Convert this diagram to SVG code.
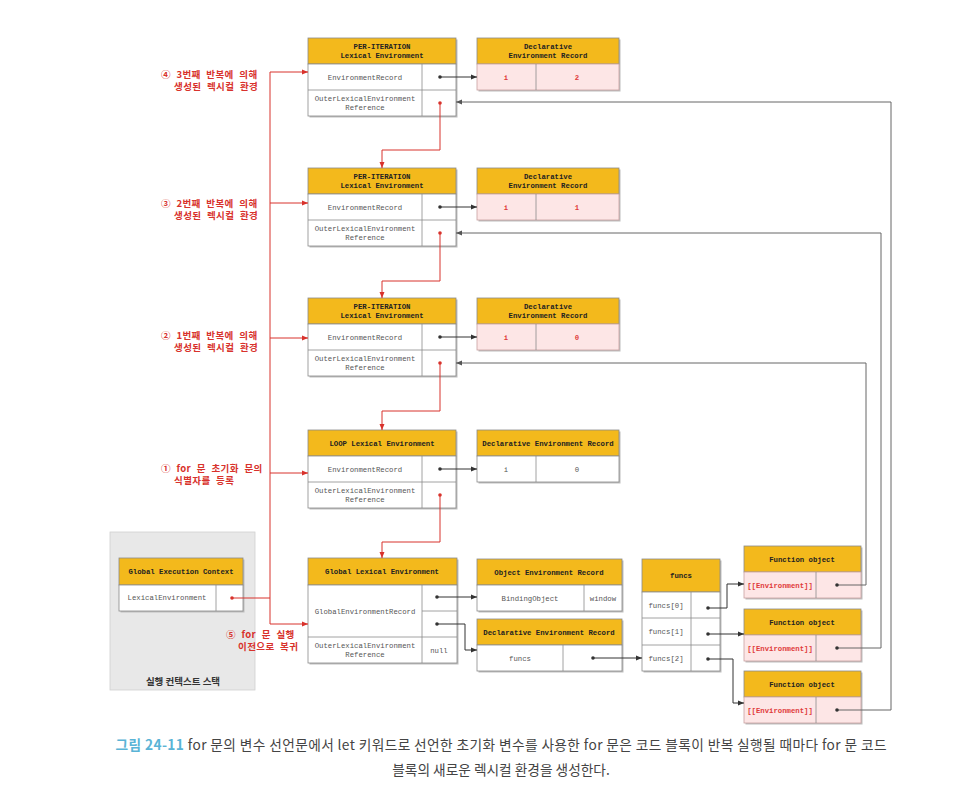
<svg xmlns="http://www.w3.org/2000/svg" width="975" height="787" viewBox="0 0 975 787">
<style>
.hd{fill:#f3b91c;stroke:#8a8a8a;stroke-width:0.8}
.bd{fill:#ffffff;stroke:#8a8a8a;stroke-width:0.8}
.pk{fill:#fde6e6;stroke:#c9a0a0;stroke-width:0.8}
.sh{fill:#bdbdbd}
.dv{stroke:#8a8a8a;stroke-width:0.8}
.ht{font-family:"Liberation Mono","DejaVu Sans Mono",monospace;font-size:7.3px;font-weight:bold;fill:#222;text-anchor:middle}
.bt{font-family:"Liberation Mono","DejaVu Sans Mono",monospace;font-size:7.3px;fill:#555;text-anchor:middle}
.rt{font-family:"Liberation Mono","DejaVu Sans Mono",monospace;font-size:7.3px;font-weight:bold;fill:#e03a3a;text-anchor:middle}
.lb{font-family:"Noto Sans CJK KR","Noto Sans",sans-serif;font-size:9.5px;font-weight:bold;fill:#d8322c;letter-spacing:0.4px;word-spacing:3px}
.cap{font-family:"Noto Sans CJK KR","Noto Sans",sans-serif;font-size:13.7px;fill:#444;text-anchor:middle}
.red{fill:none;stroke:#d8322c;stroke-width:1}
.blk{fill:none;stroke:#333;stroke-width:1}
.gry{fill:none;stroke:#666;stroke-width:1}
</style>
<defs>
<marker id="ar" viewBox="0 0 6 6" refX="6" refY="3" markerWidth="6" markerHeight="6" orient="auto" markerUnits="userSpaceOnUse"><path d="M0,0.5 L6,3 L0,5.5 z" fill="#d8322c"/></marker>
<marker id="ab" viewBox="0 0 6 6" refX="6" refY="3" markerWidth="6" markerHeight="6" orient="auto" markerUnits="userSpaceOnUse"><path d="M0,0.5 L6,3 L0,5.5 z" fill="#333"/></marker>
<marker id="ag" viewBox="0 0 6 6" refX="6" refY="3" markerWidth="6" markerHeight="6" orient="auto" markerUnits="userSpaceOnUse"><path d="M0,0.5 L6,3 L0,5.5 z" fill="#555"/></marker>
</defs>
<rect width="975" height="787" fill="#ffffff"/>

<!-- execution context stack panel -->
<g id="stack">
<rect x="110" y="532" width="145" height="158" fill="#e8e8e8" stroke="#d0d0d0" stroke-width="0.8"/>
<text x="183" y="685" font-family="Noto Sans CJK KR,Noto Sans,sans-serif" font-size="9.5" font-weight="bold" fill="#333" text-anchor="middle">실행 컨텍스트 스택</text>
</g>
<g id="gec">
<rect class="sh" x="120.5" y="559.5" width="124" height="53"/>
<rect class="hd" x="119" y="558" width="124" height="27"/>
<rect class="bd" x="119" y="585" width="124" height="26"/>
<line class="dv" x1="216" y1="585" x2="216" y2="611"/>
<text class="ht" x="181" y="574">Global Execution Context</text>
<text class="bt" x="167" y="600">LexicalEnvironment</text>
</g>

<!-- iteration 3 -->
<g id="iter3">
<rect class="sh" x="309.5" y="39.5" width="148" height="78"/>
<rect class="hd" x="308" y="38" width="148" height="26"/>
<rect class="bd" x="308" y="64" width="148" height="52"/>
<line class="dv" x1="308" y1="90" x2="456" y2="90"/>
<line class="dv" x1="422" y1="64" x2="422" y2="116"/>
<text class="ht" x="382" y="48.5">PER-ITERATION</text>
<text class="ht" x="382" y="57.5">Lexical Environment</text>
<text class="bt" x="365" y="79.5">EnvironmentRecord</text>
<text class="bt" x="365" y="101">OuterLexicalEnvironment</text>
<text class="bt" x="365" y="110">Reference</text>
</g>
<g id="der3">
<rect class="sh" x="478.5" y="39.5" width="142" height="52"/>
<rect class="hd" x="477" y="38" width="142" height="26"/>
<rect class="pk" x="477" y="64" width="142" height="26"/>
<line class="dv" x1="536" y1="64" x2="536" y2="90"/>
<text class="ht" x="548" y="48.5">Declarative</text>
<text class="ht" x="548" y="57.5">Environment Record</text>
<text class="rt" x="506" y="79.5">i</text>
<text class="rt" x="577" y="79.5">2</text>
</g>

<!-- iteration 2 -->
<g id="iter2">
<rect class="sh" x="309.5" y="169.5" width="148" height="78"/>
<rect class="hd" x="308" y="168" width="148" height="26"/>
<rect class="bd" x="308" y="194" width="148" height="52"/>
<line class="dv" x1="308" y1="220" x2="456" y2="220"/>
<line class="dv" x1="422" y1="194" x2="422" y2="246"/>
<text class="ht" x="382" y="178.5">PER-ITERATION</text>
<text class="ht" x="382" y="187.5">Lexical Environment</text>
<text class="bt" x="365" y="209.5">EnvironmentRecord</text>
<text class="bt" x="365" y="231">OuterLexicalEnvironment</text>
<text class="bt" x="365" y="240">Reference</text>
</g>
<g id="der2">
<rect class="sh" x="478.5" y="169.5" width="142" height="52"/>
<rect class="hd" x="477" y="168" width="142" height="26"/>
<rect class="pk" x="477" y="194" width="142" height="26"/>
<line class="dv" x1="536" y1="194" x2="536" y2="220"/>
<text class="ht" x="548" y="178.5">Declarative</text>
<text class="ht" x="548" y="187.5">Environment Record</text>
<text class="rt" x="506" y="209.5">i</text>
<text class="rt" x="577" y="209.5">1</text>
</g>

<!-- iteration 1 -->
<g id="iter1">
<rect class="sh" x="309.5" y="299.5" width="148" height="78"/>
<rect class="hd" x="308" y="298" width="148" height="26"/>
<rect class="bd" x="308" y="324" width="148" height="52"/>
<line class="dv" x1="308" y1="350" x2="456" y2="350"/>
<line class="dv" x1="422" y1="324" x2="422" y2="376"/>
<text class="ht" x="382" y="308.5">PER-ITERATION</text>
<text class="ht" x="382" y="317.5">Lexical Environment</text>
<text class="bt" x="365" y="339.5">EnvironmentRecord</text>
<text class="bt" x="365" y="361">OuterLexicalEnvironment</text>
<text class="bt" x="365" y="370">Reference</text>
</g>
<g id="der1">
<rect class="sh" x="478.5" y="299.5" width="142" height="52"/>
<rect class="hd" x="477" y="298" width="142" height="26"/>
<rect class="pk" x="477" y="324" width="142" height="26"/>
<line class="dv" x1="536" y1="324" x2="536" y2="350"/>
<text class="ht" x="548" y="308.5">Declarative</text>
<text class="ht" x="548" y="317.5">Environment Record</text>
<text class="rt" x="506" y="339.5">i</text>
<text class="rt" x="577" y="339.5">0</text>
</g>

<!-- loop -->
<g id="loop">
<rect class="sh" x="309.5" y="431.5" width="148" height="78"/>
<rect class="hd" x="308" y="430" width="148" height="26"/>
<rect class="bd" x="308" y="456" width="148" height="52"/>
<line class="dv" x1="308" y1="482" x2="456" y2="482"/>
<line class="dv" x1="422" y1="456" x2="422" y2="508"/>
<text class="ht" x="382" y="445.5">LOOP Lexical Environment</text>
<text class="bt" x="365" y="471.5">EnvironmentRecord</text>
<text class="bt" x="365" y="493">OuterLexicalEnvironment</text>
<text class="bt" x="365" y="502">Reference</text>
</g>
<g id="derloop">
<rect class="sh" x="478.5" y="431.5" width="142" height="52"/>
<rect class="hd" x="477" y="430" width="142" height="26"/>
<rect class="bd" x="477" y="456" width="142" height="26"/>
<line class="dv" x1="536" y1="456" x2="536" y2="482"/>
<text class="ht" x="548" y="445.5">Declarative Environment Record</text>
<text class="bt" x="506" y="471.5">i</text>
<text class="bt" x="577" y="471.5">0</text>
</g>

<!-- global lexical environment -->
<g id="gle">
<rect class="sh" x="309.5" y="559.5" width="149" height="105"/>
<rect class="hd" x="308" y="558" width="149" height="27"/>
<rect class="bd" x="308" y="585" width="149" height="78"/>
<line class="dv" x1="308" y1="637" x2="457" y2="637"/>
<line class="dv" x1="422" y1="585" x2="422" y2="663"/>
<line class="dv" x1="422" y1="611" x2="457" y2="611"/>
<text class="ht" x="382" y="574">Global Lexical Environment</text>
<text class="bt" x="365" y="613.5">GlobalEnvironmentRecord</text>
<text class="bt" x="365" y="648">OuterLexicalEnvironment</text>
<text class="bt" x="365" y="657">Reference</text>
<text class="bt" x="439" y="652.5">null</text>
</g>
<g id="oer">
<rect class="sh" x="478.5" y="560.5" width="145" height="52"/>
<rect class="hd" x="477" y="559" width="145" height="26"/>
<rect class="bd" x="477" y="585" width="145" height="26"/>
<line class="dv" x1="584" y1="585" x2="584" y2="611"/>
<text class="ht" x="549" y="574.5">Object Environment Record</text>
<text class="bt" x="530" y="600.5">BindingObject</text>
<text class="bt" x="603" y="600.5">window</text>
</g>
<g id="derglobal">
<rect class="sh" x="478.5" y="620.5" width="145" height="52"/>
<rect class="hd" x="477" y="619" width="145" height="26"/>
<rect class="bd" x="477" y="645" width="145" height="26"/>
<line class="dv" x1="563" y1="645" x2="563" y2="671"/>
<text class="ht" x="549" y="634.5">Declarative Environment Record</text>
<text class="bt" x="520" y="660.5">funcs</text>
</g>

<!-- funcs array -->
<g id="funcs">
<rect class="sh" x="643.5" y="560.5" width="78" height="112"/>
<rect class="hd" x="642" y="559" width="78" height="33"/>
<rect class="bd" x="642" y="592" width="78" height="79"/>
<line class="dv" x1="642" y1="618" x2="720" y2="618"/>
<line class="dv" x1="642" y1="645" x2="720" y2="645"/>
<line class="dv" x1="691" y1="592" x2="691" y2="671"/>
<text class="ht" x="681" y="578">funcs</text>
<text class="bt" x="666" y="607.5">funcs[0]</text>
<text class="bt" x="666" y="634">funcs[1]</text>
<text class="bt" x="666" y="660.5">funcs[2]</text>
</g>

<!-- function objects -->
<g id="fo1">
<rect class="sh" x="745.5" y="547.5" width="117" height="52"/>
<rect class="hd" x="744" y="546" width="117" height="26"/>
<rect class="pk" x="744" y="572" width="117" height="26"/>
<line class="dv" x1="816" y1="572" x2="816" y2="598"/>
<text class="ht" x="802" y="561.5">Function object</text>
<text class="rt" x="780" y="587.5">[[Environment]]</text>
</g>
<g id="fo2">
<rect class="sh" x="745.5" y="610.5" width="117" height="52"/>
<rect class="hd" x="744" y="609" width="117" height="26"/>
<rect class="pk" x="744" y="635" width="117" height="26"/>
<line class="dv" x1="816" y1="635" x2="816" y2="661"/>
<text class="ht" x="802" y="624.5">Function object</text>
<text class="rt" x="780" y="650.5">[[Environment]]</text>
</g>
<g id="fo3">
<rect class="sh" x="745.5" y="672.5" width="117" height="52"/>
<rect class="hd" x="744" y="671" width="117" height="26"/>
<rect class="pk" x="744" y="697" width="117" height="26"/>
<line class="dv" x1="816" y1="697" x2="816" y2="723"/>
<text class="ht" x="802" y="686.5">Function object</text>
<text class="rt" x="780" y="712.5">[[Environment]]</text>
</g>

<!-- labels -->
<g id="labels">
<text class="lb" x="161" y="77.5">④ 3번째 반복에 의해</text>
<text class="lb" x="174" y="90">생성된 렉시컬 환경</text>
<text class="lb" x="161" y="206.5">③ 2번째 반복에 의해</text>
<text class="lb" x="174" y="219">생성된 렉시컬 환경</text>
<text class="lb" x="161" y="338.5">② 1번째 반복에 의해</text>
<text class="lb" x="174" y="351">생성된 렉시컬 환경</text>
<text class="lb" x="161" y="471.5">① for 문 초기화 문의</text>
<text class="lb" x="174" y="484">식별자를 등록</text>
<text class="lb" x="226" y="637.5">⑤ for 문 실행</text>
<text class="lb" x="238" y="650">이전으로 복귀</text>
</g>

<!-- connectors -->
<g id="connectors">
<path class="red" d="M232,598 H270"/>
<path class="red" d="M270,72 V624"/>
<path class="red" d="M270,72 H308" marker-end="url(#ar)"/>
<path class="red" d="M270,203 H308" marker-end="url(#ar)"/>
<path class="red" d="M270,338 H308" marker-end="url(#ar)"/>
<path class="red" d="M270,473 H308" marker-end="url(#ar)"/>
<path class="red" d="M270,624 H308" marker-end="url(#ar)"/>
<path class="red" d="M440,103 V150 H382 V168" marker-end="url(#ar)"/>
<path class="red" d="M440,233 V281 H382 V298" marker-end="url(#ar)"/>
<path class="red" d="M440,363 V411 H382 V430" marker-end="url(#ar)"/>
<path class="red" d="M440,495 V542 H382 V558" marker-end="url(#ar)"/>
<path class="blk" d="M440,77 H477" marker-end="url(#ab)"/>
<path class="blk" d="M440,207 H477" marker-end="url(#ab)"/>
<path class="blk" d="M440,337 H477" marker-end="url(#ab)"/>
<path class="blk" d="M440,469 H477" marker-end="url(#ab)"/>
<path class="blk" d="M437,597 H477" marker-end="url(#ab)"/>
<path class="blk" d="M437,624 H465 V650 H477" marker-end="url(#ab)"/>
<path class="blk" d="M593,658 H642" marker-end="url(#ab)"/>
<path class="blk" d="M708,608 H727 V584 H744" marker-end="url(#ab)"/>
<path class="blk" d="M708,634 H744" marker-end="url(#ab)"/>
<path class="blk" d="M708,659 H733 V703 H744" marker-end="url(#ab)"/>
<path class="gry" d="M837,585 H866 V363 H456" marker-end="url(#ag)"/>
<path class="gry" d="M837,648 H881 V233 H456" marker-end="url(#ag)"/>
<path class="gry" d="M837,710 H891 V102 H456" marker-end="url(#ag)"/>
<g fill="#333">
<circle cx="440" cy="77" r="1.8"/><circle cx="440" cy="207" r="1.8"/><circle cx="440" cy="337" r="1.8"/><circle cx="440" cy="469" r="1.8"/>
<circle cx="437" cy="597" r="1.8"/><circle cx="437" cy="624" r="1.8"/><circle cx="593" cy="658" r="1.8"/>
<circle cx="708" cy="608" r="1.8"/><circle cx="708" cy="634" r="1.8"/><circle cx="708" cy="659" r="1.8"/>
<circle cx="837" cy="585" r="1.8"/><circle cx="837" cy="648" r="1.8"/><circle cx="837" cy="710" r="1.8"/>
</g>
<g fill="#d8322c">
<circle cx="440" cy="103" r="1.8"/><circle cx="440" cy="233" r="1.8"/><circle cx="440" cy="363" r="1.8"/><circle cx="440" cy="495" r="1.8"/>
<circle cx="232" cy="598" r="1.8"/>
</g>
</g>

<!-- caption -->
<g id="caption">
<text class="cap" x="501" y="750" textLength="771" lengthAdjust="spacing"><tspan fill="#5ab4d6" font-weight="bold">그림 24-11</tspan> for 문의 변수 선언문에서 let 키워드로 선언한 초기화 변수를 사용한 for 문은 코드 블록이 반복 실행될 때마다 for 문 코드</text>
<text class="cap" x="501" y="775">블록의 새로운 렉시컬 환경을 생성한다.</text>
</g>
</svg>
